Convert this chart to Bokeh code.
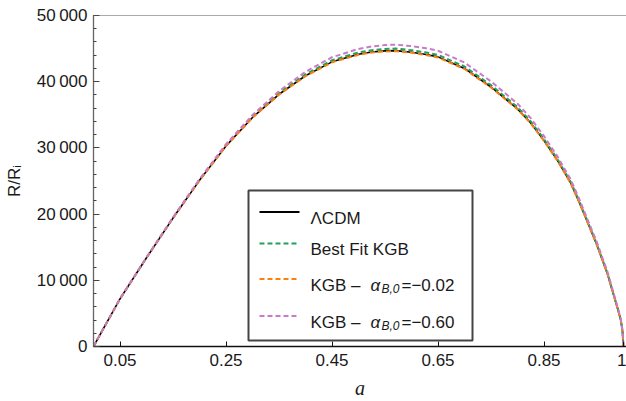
from bokeh.plotting import figure
from bokeh.models import (FixedTicker, Span, BoxAnnotation, Label, Arrow, Range1d)
from bokeh.embed import file_html
from bokeh.resources import INLINE

# ---------------- data ----------------
a_vals = [0, 0.02, 0.05, 0.1, 0.15, 0.2, 0.25, 0.3, 0.35, 0.4, 0.45, 0.5, 0.525, 0.55, 0.57,
          0.6, 0.625, 0.65, 0.7, 0.75, 0.8, 0.825, 0.85, 0.875, 0.9, 0.915, 0.93, 0.95, 0.97,
          0.98, 0.99, 0.995, 0.998, 1.0]
lcdm = [0, 2900, 7200, 13400, 19400, 25100, 30300, 34600, 38100, 40900, 43000, 44150, 44480,
        44650, 44700, 44450, 44150, 43750, 42000, 39200, 35900, 33750, 31100, 28150, 24750,
        22080, 19200, 15290, 10900, 8170, 5440, 3950, 2400, 0]
best_fit = [0, 2900, 7205, 13420, 19440, 25160, 30390, 34720, 38260, 41100, 43240, 44420, 44760,
            44940, 45000, 44760, 44460, 44060, 42300, 39480, 36160, 34000, 31330, 28360, 24930,
            22240, 19340, 15410, 10980, 8230, 5480, 3980, 2420, 0]
kgb_002 = [0, 2900, 7195, 13390, 19385, 25080, 30270, 34560, 38050, 40840, 42930, 44070, 44400,
           44570, 44620, 44370, 44070, 43670, 41920, 39130, 35840, 33690, 31050, 28110, 24710,
           22050, 19170, 15270, 10890, 8160, 5430, 3945, 2397, 0]
kgb_060 = [0, 2905, 7215, 13460, 19500, 25280, 30570, 34960, 38570, 41500, 43700, 44950, 45330,
           45530, 45600, 45370, 45080, 44680, 42900, 40050, 36680, 34490, 31780, 28760, 25290,
           22560, 19620, 15710, 11230, 8440, 5630, 4090, 2490, 0]

x_ticks = [0.05, 0.25, 0.45, 0.65, 0.85, 1.0]
x_tick_labels = ["0.05", "0.25", "0.45", "0.65", "0.85", "1"]
y_ticks = [0, 10000, 20000, 30000, 40000, 50000]
y_tick_labels = ["0", "10\u2009000", "20\u2009000", "30\u2009000", "40\u2009000", "50\u2009000"]
y_minor = [v * 2000 for v in range(26)]

x_title = "a"
y_title = "R/R\u1d62"
series_names = ["\u039bCDM", "Best Fit KGB", "KGB \u2013 ", "KGB \u2013 "]
sub_values = ["=\u22120.02", "=\u22120.60"]
colors = ["#000000", "#21a05a", "#ff7f0e", "#cc79c9"]

# ---------------- layout ----------------
W, H = 626, 401
L, R, T, B = 93, 0, 15, 55
X0, X1 = 0.0, 533 / 530
Y0, Y1 = 0, 50000
FONT = "Liberation Sans"
FS = "17px"
TXT = "#1a1a1a"


def X(px):
    return X0 + (px - L) * (X1 - X0) / (W - L - R)


def Y(py):
    return Y0 + (H - B - py) * (Y1 - Y0) / (H - T - B)


p = figure(width=W, height=H, output_backend="svg", toolbar_location=None,
           x_range=Range1d(X0, X1), y_range=Range1d(Y0, Y1),
           min_border_left=L, min_border_right=R, min_border_top=T, min_border_bottom=B)
p.outline_line_color = None
p.grid.visible = False
p.background_fill_color = "white"
p.border_fill_color = "white"

# axes
xa = p.xaxis[0]
xa.ticker = FixedTicker(ticks=x_ticks, minor_ticks=[])
xa.major_label_overrides = {t: s for t, s in zip(x_ticks, x_tick_labels)}
xa.axis_line_color = "#111111"
xa.axis_line_width = 1.3
xa.major_tick_in = 5
xa.major_tick_out = 0
xa.major_tick_line_color = "#111111"
xa.minor_tick_line_color = None
xa.major_label_standoff = 7
xa.major_label_text_font = FONT
xa.major_label_text_font_size = FS
xa.major_label_text_color = TXT
xa.axis_label = x_title
xa.axis_label_text_font = "Liberation Serif"
xa.axis_label_text_font_style = "italic"
xa.axis_label_text_font_size = "20px"
xa.axis_label_text_color = TXT
xa.axis_label_standoff = 8

ya = p.yaxis[0]
ya.ticker = FixedTicker(ticks=y_ticks, minor_ticks=y_minor)
ya.major_label_overrides = {t: s for t, s in zip(y_ticks, y_tick_labels)}
ya.axis_line_color = "#666666"
ya.axis_line_width = 1.3
ya.major_tick_in = 6
ya.major_tick_out = 0
ya.minor_tick_in = 3
ya.minor_tick_out = 0
ya.major_tick_line_color = "#444444"
ya.minor_tick_line_color = "#444444"
ya.major_label_standoff = 6
ya.major_label_text_font = FONT
ya.major_label_text_font_size = FS
ya.major_label_text_color = TXT
ya.axis_label = y_title
ya.axis_label_text_font = FONT
ya.axis_label_text_font_style = "normal"
ya.axis_label_text_font_size = FS
ya.axis_label_text_color = TXT
ya.axis_label_standoff = 10

p.add_layout(Span(location=Y1, dimension="width", line_color="#555555", line_width=1.2))

# curves
p.line(a_vals, lcdm, line_color=colors[0], line_width=1.6)
p.line(a_vals, best_fit, line_color=colors[1], line_width=2, line_dash="5 3")
p.line(a_vals, kgb_002, line_color=colors[2], line_width=2, line_dash="5 3")
p.line(a_vals, kgb_060, line_color=colors[3], line_width=2, line_dash="5 3")

# legend
p.add_layout(BoxAnnotation(left=X(248), right=X(472), top=Y(190), bottom=Y(340),
                           fill_color="white", fill_alpha=1.0, line_color="#444444", line_width=2,
                           line_alpha=1.0))
rows = [211.5, 243, 278.5, 315.5]
for i, ry in enumerate(rows):
    p.add_layout(Arrow(end=None, x_start=X(259), y_start=Y(ry), x_end=X(299), y_end=Y(ry),
                       line_color=colors[i], line_width=2 if i else 1.8,
                       line_dash="solid" if i == 0 else "5 3"))
    base = ry + 6
    p.add_layout(Label(x=X(310), y=Y(base), text=series_names[i], text_baseline="alphabetic",
                       text_font=FONT, text_font_size=FS, text_color=TXT))
    if i >= 2:
        p.add_layout(Label(x=X(370), y=Y(base), text="\u03b1", text_baseline="alphabetic",
                           text_font=FONT, text_font_style="italic", text_font_size=FS,
                           text_color=TXT))
        p.add_layout(Label(x=X(381), y=Y(base + 4), text="B,0", text_baseline="alphabetic",
                           text_font=FONT, text_font_style="italic", text_font_size="12px",
                           text_color=TXT))
        p.add_layout(Label(x=X(401), y=Y(base), text=sub_values[i - 2], text_baseline="alphabetic",
                           text_font=FONT, text_font_size=FS, text_color=TXT))

open("out.html", "w").write(file_html(p, INLINE))
